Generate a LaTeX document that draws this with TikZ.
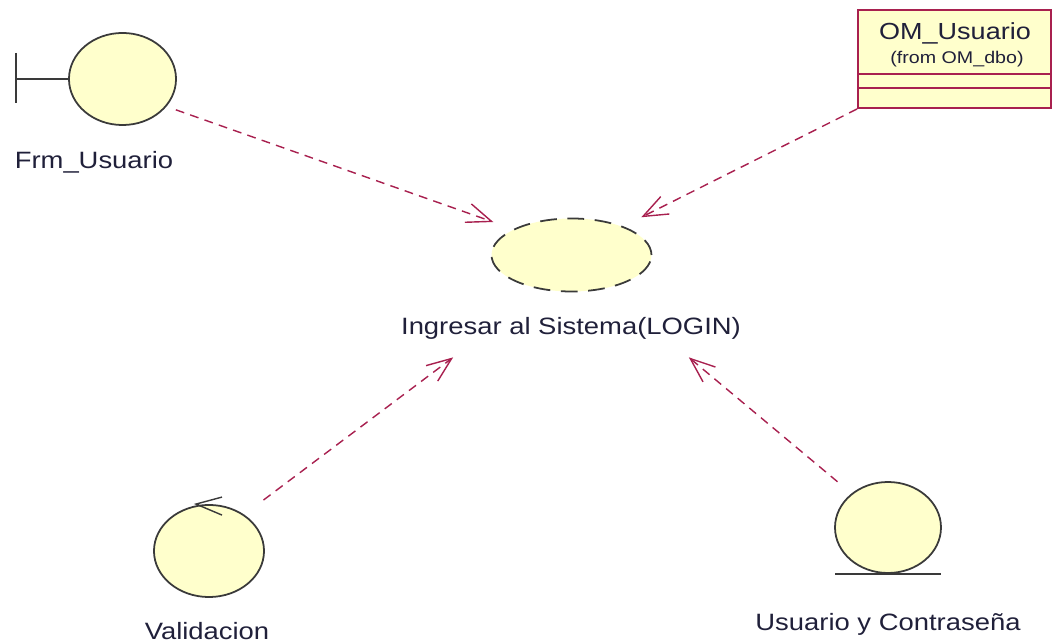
\documentclass[tikz,border=0pt]{standalone}
\usepackage{fontspec}
\setmainfont[FakeStretch=1.16]{Liberation Sans}
\usetikzlibrary{arrows.meta,shapes.geometric,calc}
\definecolor{ivory}{HTML}{FFFFCC}
\definecolor{wine}{HTML}{A8204F}
\definecolor{ink}{HTML}{3A3A3A}
\definecolor{textink}{HTML}{20203A}
\tikzset{
  x=0.567pt,y=-0.567pt,
  robust/.style={ellipse,draw=ink,fill=ivory,line width=1pt,inner sep=0pt},
  label/.style={text=textink,inner sep=0pt,font=\fontsize{13.4}{15}\selectfont},
  flow/.style={draw=wine,line width=0.8pt,dash pattern=on 5pt off 3.6pt,
    -{Straight Barb[length=14pt,width=11pt,line width=0.8pt,sep=0pt]}},
  mark line/.style={draw=ink,line width=1.1pt},
  class line/.style={draw=wine,line width=1.1pt}
}
\begin{document}
\begin{tikzpicture}
\useasboundingbox (0,0) rectangle (1054,644);
% robustness nodes
\node[robust,minimum width=60.7pt,minimum height=52.2pt] (frm) at (122.5,79) {};
\node[robust,minimum width=62.4pt,minimum height=52.2pt] (val) at (209,551) {};
\node[robust,minimum width=60.1pt,minimum height=51.6pt] (usr) at (888,527.5) {};
\node[robust,dash pattern=on 9.5pt off 6pt,minimum width=90.7pt,minimum height=41.4pt] (login) at (571.5,255) {};
% class box
\node[rectangle,draw=wine,fill=ivory,line width=1.1pt,minimum width=109.4pt,minimum height=55.6pt,inner sep=0pt] (om) at (954.5,59) {};
\draw[class line] ($(om.north west)!0.653!(om.south west)$) coordinate (omA) -- (omA -| om.east);
\draw[class line] ($(om.north west)!0.786!(om.south west)$) coordinate (omB) -- (omB -| om.east);
\node[label,font=\fontsize{13.2}{15}\selectfont] (omname) at (955,33) {OM\_Usuario};
\node[label,font=\fontsize{9.6}{11}\selectfont] (omfrom) at (957,59) {(from OM\_dbo)};
% labels
\node[label] (frmlabel) at (94,162.5) {Frm\_Usuario};
\node[label,minimum width=197pt,minimum height=32.9pt] (loginlabel) at (571,328) {Ingresar al Sistema(LOGIN)};
\node[label] (vallabel) at (207,631) {Validacion};
\node[label] (usrlabel) at (888,624) {Usuario y Contraseña};
% stereotype marks
\coordinate (frmbarTop) at (16,53);
\coordinate (frmbarBot) at (16,103);
\draw[mark line] (frmbarTop) -- (frmbarBot);
\draw[mark line] (frmbarTop |- frm.west) -- (frm.west);
\draw[mark line] ($(usr.south)+(-53,0)$) coordinate (usrL) -- ($(usr.south)+(53,0)$) coordinate (usrR);
\draw[mark line,line width=0.8pt] ($(val.north)+(13,-7)$) coordinate (valT) -- ($(val.north)+(-13,0)$) coordinate (valTip) -- ($(val.north)+(13,11)$) coordinate (valB);
% connectors
\draw[flow,shorten <=5.6pt,shorten >=12pt] (frm.-32) -- (login.156.9);
\draw[flow,shorten >=11.4pt] (om.south west) -- (login.29);
\draw[flow,shorten <=13.7pt] (val.46.6) -- (loginlabel.-166.5);
\draw[flow,shorten <=10.3pt] (usr.137.1) -- (loginlabel.-14.15);
\end{tikzpicture}
\end{document}
